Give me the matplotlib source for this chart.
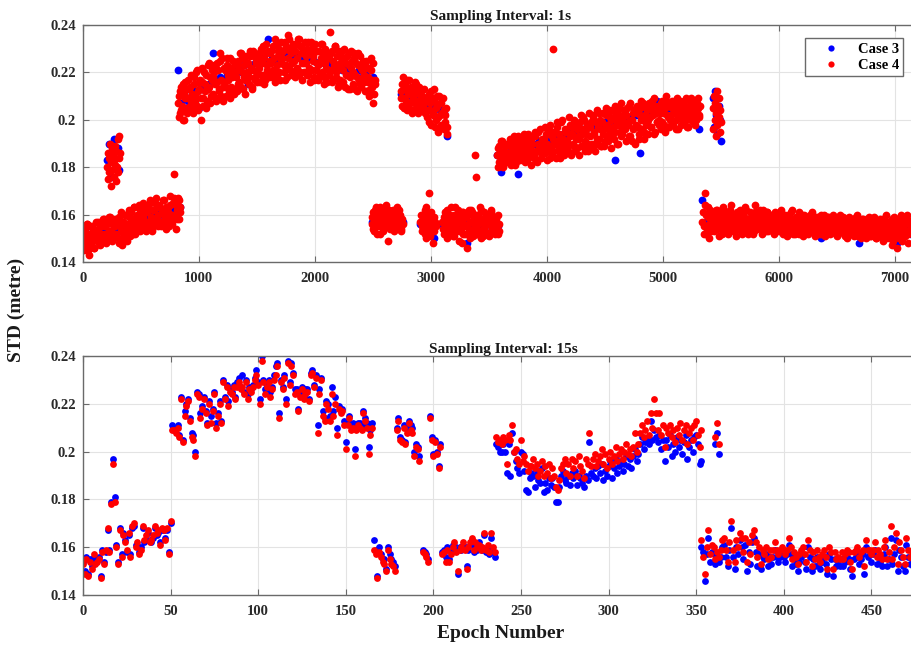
import numpy as np
import matplotlib.pyplot as plt

plt.rcParams['font.family'] = ['Liberation Serif', 'DejaVu Serif']
plt.rcParams['font.weight'] = 'bold'

# STD values in millimetres. Each block: first epoch, epoch step, values.

# ---- Sampling interval 1 s, Case 4 ----
s1_c4_a = [150, 145, 154, 148, 156, 143, 152, 147, 155, 150, 146, 153, 149, 157, 151, 147, 155, 149, 158, 152,
           148, 156, 150, 159, 153, 149, 157, 151, 155]
s1_c4_a2 = [147, 153, 150, 156, 145, 151, 155, 149, 154, 146, 152, 157, 150, 154, 148, 156, 152, 158, 149, 155,
            151, 157, 153, 159, 150, 156, 152, 158]
s1_c4_b = [180, 186, 175, 184, 178, 190, 182, 172, 188, 179, 185, 176, 183, 189, 181, 174, 187, 180, 192, 178,
           184, 193, 186]
s1_c4_c = [152, 158, 148, 155, 161, 150, 157, 153, 160, 149, 156, 162, 151, 158, 154, 163, 152, 159, 155, 164,
           153, 160, 156, 165, 154, 161, 157, 163, 155, 166, 158, 153, 162, 156, 167, 159, 155, 164, 157, 161,
           156, 166, 159, 154, 163, 158, 168, 160, 156, 165, 177, 154, 162, 167, 158, 163]
s1_c4_c2 = [156, 150, 159, 153, 147, 157, 152, 160, 155, 151, 159, 154, 161, 157, 152, 163, 156, 160, 154, 158,
            162, 155, 159, 164, 157, 153, 161, 156, 165, 159, 154, 162, 158, 165, 156, 160, 163, 157, 155, 161,
            166, 159, 163, 157, 161, 155, 164, 160, 158, 167, 160, 164, 158, 166, 161]
s1_c4_d = [207, 201, 212, 204, 215, 200, 209, 213, 203, 217, 206, 219, 211, 203, 215, 208, 221, 204, 213, 217,
           200, 222, 206, 215, 219, 208, 213, 224, 207, 217, 211, 220, 215, 208, 224, 213, 228, 210, 226, 214,
           216, 210, 223, 219, 212, 226, 214, 221, 211, 224, 218, 212, 225, 216, 228, 220, 213, 223, 217, 227,
           220, 215, 227, 222, 214, 229, 218, 224, 216, 226, 222, 216, 230, 219, 226, 217, 232, 223, 220, 228,
           224, 218, 231, 221, 234, 219, 227, 230, 217, 225, 226, 220, 233, 223, 218, 236, 222, 229, 219, 231,
           225, 218, 232, 222, 234, 220, 228, 217, 230, 224, 227, 219, 233, 222, 216, 230, 225, 218, 232, 221,
           229, 217, 224, 232, 220, 227, 215, 230, 222, 226, 219, 237, 228, 216, 225, 231, 218, 223, 214, 229,
           217, 226, 221, 230, 214, 224, 219, 228, 213, 222, 225, 215, 228, 219, 212, 223, 217, 227, 214, 221,
           216, 224, 212, 222, 218, 210, 226, 214, 207, 211, 217]
s1_c4_d2 = [210, 203, 214, 206, 200, 211, 216, 205, 209, 213, 214, 208, 204, 218, 210, 220, 206, 212, 216, 209,
            216, 209, 220, 212, 205, 223, 214, 218, 210, 221, 218, 223, 209, 216, 221, 212, 225, 217, 208, 222,
            221, 214, 226, 217, 209, 222, 218, 225, 213, 220, 223, 215, 221, 228, 214, 226, 218, 211, 224, 220,
            224, 218, 229, 213, 221, 227, 217, 225, 220, 228, 226, 219, 224, 231, 215, 228, 221, 229, 218, 225,
            229, 221, 226, 216, 232, 223, 229, 220, 233, 226, 229, 223, 217, 231, 226, 234, 221, 228, 224, 232,
            229, 221, 226, 234, 219, 231, 224, 228, 220, 233, 224, 230, 219, 228, 233, 221, 227, 217, 229, 224,
            223, 229, 219, 226, 232, 218, 224, 228, 216, 221, 226, 221, 229, 217, 223, 231, 220, 227, 215, 224,
            222, 229, 216, 225, 219, 227, 213, 223, 218, 229, 220, 226, 213, 224, 218, 228, 215, 222, 217, 225,
            219, 212, 225, 216, 222, 213, 221, 217, 224, 215]
s1_c4_e = [156, 161, 153, 158, 163, 155, 160, 152, 157, 162, 154, 159, 164, 156, 149, 161, 158, 155, 162, 154,
           159, 157, 163, 155, 160, 153, 158, 156]
s1_c4_e2 = [159, 154, 162, 157, 152, 160, 156, 163, 158, 153, 161, 155, 159, 157, 162, 154, 160, 156, 158, 153,
            161, 157, 155, 162, 159, 154, 157]
s1_c4_f = [212, 206, 218, 209, 215, 204, 211, 217, 207, 213, 203, 210, 216, 205, 212, 208, 214, 204, 210, 206,
           213, 203]
s1_c4_f2 = [209, 215, 205, 213, 208, 217, 206, 211, 214, 204, 209, 213, 207, 215, 203, 211, 206, 212, 209, 205,
            208]
s1_c4_g = [208, 201, 211, 204, 198, 209, 203, 213, 200, 206, 195, 210, 202, 207, 197, 204, 199, 205, 194]
s1_c4_g2 = [204, 210, 199, 207, 212, 202, 208, 197, 205, 210, 201, 207, 198, 203, 209, 196, 202, 197]
s1_c4_h = [157, 153, 160, 155, 162, 150, 158, 169, 154, 161, 156, 148, 159, 155]
s1_c4_h2 = [160, 155, 158, 152, 163, 157, 154, 160, 151, 158, 156, 153, 157]
s1_c4_i = [157, 152, 161, 155, 150, 159, 154, 163, 156, 151, 160, 153, 158, 162, 149, 157, 154, 161, 152, 159,
           155, 146, 160, 153, 157, 162, 151, 158, 155, 160, 152, 156, 163, 150, 158, 154, 161, 153, 157, 160,
           151, 156, 162, 154, 159, 152, 157, 155, 160, 153]
s1_c4_i2 = [154, 159, 153, 162, 157, 152, 160, 155, 158, 151, 163, 156, 154, 160, 153, 158, 148, 161, 156, 152,
            159, 155, 162, 150, 157, 161, 154, 159, 152, 156, 160, 153, 158, 162, 151, 157, 155, 160, 152, 158,
            156, 161, 153, 157, 159, 154, 158, 152, 156]
s1_c4_j = [185, 180, 189, 183, 191, 181, 187, 184, 190, 182, 186, 192, 181, 188, 184, 193, 182, 189, 185, 191,
           183, 190, 186, 194, 182, 188, 192, 184, 189, 181, 187, 193, 185, 195, 183, 190, 188, 196, 184, 191,
           186, 197, 189, 183, 194, 187, 198, 185, 192, 190, 195, 184, 199, 188, 192, 186, 200, 190, 185, 196,
           191, 187, 201, 193, 186, 197, 189, 199, 192, 188, 198, 185, 202, 194, 189, 200, 191, 196, 187, 203,
           193, 199, 188, 202, 195, 190, 204, 197, 192, 200, 189, 203, 196, 191, 205, 198, 193, 201, 188, 204,
           197, 192, 206, 199, 190, 202, 195, 207, 194, 199, 203, 191, 205, 198, 193, 207, 200, 196, 204, 190,
           198, 206, 194, 202, 208, 196, 200, 192, 205, 199, 194, 207, 201, 197, 204, 209, 195, 203, 199, 206,
           200, 196, 208, 203, 198, 205, 210, 201, 197, 207, 202, 208, 198, 205, 200, 209, 196, 204, 207, 201,
           199, 206, 203, 209, 197, 204, 208, 200, 205, 202, 207, 198, 204, 209, 201, 206]
s1_c4_j2 = [188, 182, 186, 191, 184, 180, 189, 186, 183, 190, 184, 189, 183, 191, 186, 181, 190, 187, 193, 185,
            188, 184, 192, 186, 190, 183, 194, 187, 185, 191, 190, 184, 193, 187, 182, 195, 189, 186, 192, 188,
            192, 186, 194, 190, 196, 184, 189, 193, 187, 195, 190, 197, 187, 194, 184, 199, 192, 188, 195, 191,
            195, 189, 198, 185, 194, 190, 200, 187, 196, 193, 192, 199, 189, 196, 201, 187, 194, 198, 190, 197,
            197, 190, 201, 194, 187, 199, 192, 203, 196, 189, 199, 194, 189, 202, 197, 191, 204, 195, 200, 193,
            201, 195, 203, 190, 198, 205, 193, 200, 196, 204, 196, 202, 199, 206, 193, 200, 191, 203, 197, 205,
            203, 197, 192, 205, 200, 207, 195, 202, 198, 204, 200, 205, 197, 208, 202, 194, 206, 199, 204, 198,
            203, 207, 199, 205, 195, 208, 202, 197, 206, 200, 205, 199, 207, 203, 196, 206, 201, 208, 198, 204,
            203, 208, 200, 205, 197, 206, 202, 209, 199, 204, 203, 200, 207, 205, 202]
s1_c4_k = [205, 196, 210, 200, 207, 193, 203, 212, 198, 206, 201, 209, 195, 204, 199]
s1_c4_l = [157, 152, 169, 160, 154, 163, 150, 158, 155, 161, 153, 159, 156, 162, 151, 157, 160, 154, 163, 158,
           155, 161, 152, 158, 156, 164, 153, 160, 157, 151, 159, 154, 162, 156, 152, 160, 157, 163, 155, 158,
           153, 161, 156, 159, 152, 164, 157, 154, 160, 155, 158, 152, 162, 156, 159, 153, 161, 155, 157, 160,
           154, 158, 152, 161, 156, 159, 153, 157, 162, 155, 159, 153, 157, 151, 160, 155, 158, 162, 154, 156,
           152, 159, 155, 161, 153, 157, 156, 151, 160, 154, 158, 152, 156, 160, 153, 157, 155, 151, 159, 154,
           157, 152, 160, 155, 153, 158, 151, 156, 159, 154, 152, 157, 155, 160, 153, 156, 151, 158, 154, 157,
           153, 159, 152, 156, 155, 150, 158, 154, 157, 152, 156, 151, 159, 154, 157, 152, 155, 150, 158, 153,
           155, 150, 157, 153, 159, 151, 156, 154, 152, 158, 150, 155, 153, 158, 151, 156, 149, 154, 160, 152,
           157, 150, 155, 147, 153, 159, 151, 156, 146, 158, 152, 160, 149, 155, 157, 151, 160, 148, 156, 153,
           155]
s1_c4_l2 = [161, 155, 164, 152, 159, 156, 162, 153, 158, 160, 157, 162, 154, 160, 155, 158, 152, 161, 157, 155,
            159, 153, 157, 162, 155, 160, 154, 158, 156, 161, 155, 158, 161, 153, 157, 159, 154, 162, 156, 152,
            158, 155, 160, 157, 153, 161, 155, 158, 156, 162, 155, 160, 154, 158, 156, 161, 153, 157, 159, 155,
            160, 155, 157, 153, 159, 156, 161, 154, 157, 152, 156, 160, 154, 158, 153, 157, 161, 155, 152, 158,
            157, 154, 159, 152, 156, 160, 155, 158, 153, 157, 155, 159, 153, 157, 161, 154, 158, 152, 156, 159,
            154, 158, 156, 152, 160, 155, 157, 153, 159, 156, 156, 153, 159, 154, 157, 152, 158, 155, 160, 153,
            157, 154, 151, 158, 153, 156, 159, 152, 155, 158, 153, 157, 155, 160, 151, 156, 153, 158, 154, 156,
            152, 158, 154, 156, 151, 157, 153, 159, 155, 150, 157, 153, 151, 156, 154, 158, 152, 155, 150, 157,
            153, 156, 151, 158, 149, 155, 152, 157, 154, 150, 157, 154, 159, 151, 156, 153, 158, 152, 157, 154]
s1_c4_odd_epochs = [3380, 3390, 4050]
s1_c4_odd = [185, 176, 230]

# ---- Sampling interval 1 s, Case 3 ----
s1_c3_a = [151, 150, 152, 151, 152, 153, 152, 153, 152, 153]
s1_c3_b = [183, 190, 176, 186, 192, 180, 188, 179]
s1_c3_c = [155, 154, 156, 155, 157, 156, 158, 157, 159, 158, 160, 159, 161, 160, 162, 161, 162, 163, 163]
s1_c3_d = [221, 207, 209, 208, 211, 212, 205, 213, 214, 215, 228, 216, 218, 217, 219, 220, 221, 222, 220, 223,
           215, 223, 224, 225, 226, 224, 234, 226, 225, 227, 226, 227, 226, 225, 227, 226, 225, 226, 227, 225,
           224, 225, 224, 223, 225, 222, 223, 221, 222, 222, 220, 219, 221, 218, 219, 217, 218]
s1_c3_e = [157, 158, 157, 156, 158, 157, 158, 156, 157, 157]
s1_c3_f = [211, 210, 211, 210, 209, 210, 209, 208]
s1_c3_g = [205, 204, 206, 205, 204, 203, 193]
s1_c3_h = [156, 157, 155, 156, 150]
s1_c3_i = [156, 157, 155, 156, 157, 156, 157, 148, 156, 157, 155, 156, 154, 156, 157, 156, 155]
s1_c3_j = [185, 178, 186, 186, 187, 188, 177, 188, 189, 189, 190, 190, 191, 191, 192, 192, 193, 193, 193, 194,
           194, 195, 195, 196, 196, 196, 197, 197, 198, 198, 198, 199, 199, 200, 183, 200, 201, 201, 201, 202,
           202, 186, 203, 203, 203, 204, 208, 204, 204, 205, 205, 205, 203, 206, 204, 205, 203, 206, 196]
s1_c3_k = [209, 197, 212, 202, 194, 206, 200, 191]
s1_c3_l = [166, 157, 157, 158, 156, 157, 157, 156, 157, 158, 157, 156, 157, 156, 157, 157, 156, 157, 156, 157,
           156, 156, 157, 155, 156, 156, 157, 155, 156, 156, 156, 155, 156, 155, 150, 155, 156, 155, 155, 154,
           155, 154, 155, 154, 155, 148, 154, 155, 154, 154, 154, 153, 155, 153, 154, 153, 148, 155, 153, 154,
           152]

# ---- Sampling interval 15 s, Case 4 ----
s15_c4_a = [153, 149, 155, 148, 154, 151, 157, 153, 154, 155, 147, 158, 153, 159, 168, 158, 178, 195, 179, 160,
            153, 167, 156, 165, 162, 159, 166, 156, 169, 170, 160, 162, 157, 159, 169, 163, 165, 167, 162, 163,
            165, 169, 166, 167, 161, 168, 167, 163, 168, 157, 171]
s15_c4_b = [209, 209, 208, 210, 206, 222, 204, 215, 219, 221, 213, 206, 205, 198, 224, 223, 214, 218, 222, 216,
            211, 220, 212, 217, 224, 210, 215, 220, 212, 229, 222, 227, 219, 225, 224, 227, 222, 227, 229, 226,
            227, 224, 229, 222, 226, 225, 227, 230, 232, 228, 220, 238, 229, 224, 227, 229, 223, 226, 230, 232,
            236, 214, 229, 226, 231, 220, 237, 228, 236, 232, 224, 225, 217, 223, 226, 222, 224, 225, 221, 232,
            233, 227, 231, 208, 224, 230, 215, 213, 220, 218, 213, 224, 215, 220, 207, 218, 216, 217, 211, 201,
            211, 214, 209, 210, 198, 209, 211, 210, 209, 216, 213, 210, 199, 207, 210]
s15_c4_c = [159, 157, 147, 158, 156, 154, 153, 150, 159, 155, 153, 152, 150]
s15_c4_d = [209, 213, 205, 204, 210, 203, 208, 212, 209, 208, 198, 202, 201, 196]
s15_c4_e = [158, 157, 156, 154]
s15_c4_f = [214, 205, 198, 204, 199, 193, 202]
s15_c4_g = [157, 158, 154, 159, 154, 157, 160, 162, 158, 150, 159, 160, 162, 159, 151, 160, 162, 164, 159, 162,
            160, 161, 159, 160, 166, 159, 161, 158, 166, 160, 158]
s15_c4_h = [206, 204, 205, 203, 206, 205, 195, 207, 205, 211, 200, 201, 197, 195, 205, 196, 198, 195, 192, 194,
            194, 197, 193, 195, 190, 192, 196, 190, 194, 191, 195, 189, 193, 190, 185, 184, 188, 193, 195, 197,
            191, 195, 190, 197, 193, 196, 190, 198, 194, 192, 189, 197, 195, 208, 194, 197, 199, 194, 196, 198,
            201, 195, 199, 193, 197, 200, 195, 198, 202, 196, 199, 201, 197, 200, 203, 199, 201, 198, 202, 208,
            200, 203, 208, 211, 206, 209, 213, 207, 216, 210, 222, 216, 209, 216, 207, 211, 202, 210, 208, 211,
            206, 209, 204, 210, 207, 212, 205, 209, 211, 203, 208, 210, 205, 211, 213, 207, 202, 209]
s15_c4_i = [206, 212, 203]
s15_c4_j = [163, 156, 149, 160, 167, 157, 161, 160, 155, 158, 156, 159, 163, 164, 159, 154, 162, 171, 159, 154,
            163, 160, 166, 164, 158, 164, 154, 162, 157, 165, 167, 162, 156, 160, 153, 159, 157, 160, 155, 159,
            156, 159, 162, 159, 157, 159, 160, 159, 157, 159, 164, 160, 155, 158, 156, 153, 157, 159, 160, 157,
            154, 163, 159, 152, 158, 155, 159, 156, 154, 157, 159, 156, 151, 160, 158, 151, 158, 155, 156, 155,
            158, 155, 157, 159, 158, 154, 151, 158, 159, 160, 156, 158, 159, 152, 163, 159, 159, 157, 159, 162,
            156, 159, 157, 155, 160, 163, 155, 158, 169, 155, 160, 166, 153, 162, 159, 156, 153, 164, 159, 156,
            158, 155]

# ---- Sampling interval 15 s, Case 3 ----
s15_c3_a = [154, 150, 156, 149, 155, 152, 156, 154, 155, 156, 148, 159, 154, 158, 167, 159, 179, 197, 181, 161,
            154, 168, 157, 166, 163, 158, 165, 157, 168, 169, 161, 161, 158, 160, 168, 162, 163, 166, 163, 162,
            164, 168, 165, 166, 162, 167, 167, 164, 167, 158, 170]
s15_c3_b = [211, 210, 210, 211, 207, 223, 205, 217, 220, 222, 214, 208, 207, 200, 225, 224, 216, 219, 223, 217,
            212, 221, 215, 218, 225, 212, 216, 221, 213, 230, 223, 228, 221, 226, 225, 228, 223, 229, 231, 227,
            232, 225, 230, 224, 227, 226, 228, 231, 234, 229, 222, 240, 230, 226, 228, 230, 225, 227, 232, 236,
            237, 216, 230, 227, 232, 222, 238, 229, 237, 233, 226, 226, 218, 224, 227, 223, 226, 226, 222, 233,
            234, 228, 232, 211, 226, 231, 217, 214, 221, 220, 215, 227, 217, 223, 210, 219, 217, 218, 213, 204,
            213, 215, 211, 212, 201, 211, 212, 212, 211, 217, 214, 212, 202, 209, 212]
s15_c3_c = [163, 159, 148, 160, 157, 155, 155, 151, 160, 157, 155, 154, 152]
s15_c3_d = [210, 214, 206, 205, 211, 204, 210, 213, 211, 210, 200, 203, 202, 198]
s15_c3_e = [159, 158, 157, 155]
s15_c3_f = [215, 206, 199, 205, 200, 194, 203]
s15_c3_g = [158, 159, 156, 160, 155, 158, 161, 161, 159, 149, 160, 159, 161, 160, 152, 159, 161, 163, 158, 161,
            159, 162, 160, 159, 165, 158, 160, 157, 164, 158, 156]
s15_c3_h = [203, 202, 200, 200, 203, 200, 191, 203, 190, 208, 200, 196, 193, 191, 200, 199, 192, 184, 183, 189,
            191, 190, 185, 192, 188, 187, 193, 183, 187, 184, 189, 186, 189, 185, 179, 179, 185, 190, 192, 188,
            187, 190, 186, 191, 189, 192, 186, 190, 189, 187, 185, 190, 188, 204, 191, 190, 193, 189, 194, 191,
            195, 188, 192, 190, 194, 196, 189, 193, 197, 191, 194, 196, 192, 195, 198, 194, 197, 193, 198, 201,
            196, 199, 203, 206, 201, 204, 205, 203, 213, 205, 209, 206, 204, 207, 201, 205, 196, 205, 202, 207,
            198, 203, 200, 206, 202, 205, 199, 204, 207, 197, 202, 205, 200, 206, 207, 203, 195, 196]
s15_c3_i = [203, 208, 199]
s15_c3_j = [160, 158, 146, 157, 164, 154, 158, 157, 153, 155, 154, 156, 160, 161, 156, 152, 159, 168, 156, 151,
            160, 157, 163, 160, 155, 161, 150, 158, 153, 162, 164, 158, 152, 157, 151, 156, 155, 157, 152, 156,
            153, 156, 159, 156, 154, 156, 158, 156, 154, 157, 161, 157, 152, 155, 153, 150, 154, 156, 157, 154,
            151, 160, 156, 150, 155, 152, 156, 153, 151, 154, 156, 153, 149, 157, 155, 148, 155, 152, 153, 152,
            155, 152, 154, 156, 155, 151, 148, 155, 156, 158, 153, 155, 157, 149, 160, 156, 157, 154, 157, 159,
            153, 156, 154, 152, 157, 160, 152, 155, 164, 153, 157, 163, 150, 159, 156, 152, 150, 161, 156, 153,
            155, 152]

s1_case4 = [(0, 10, s1_c4_a), (5, 10, s1_c4_a2), (210, 5, s1_c4_b), (290, 10, s1_c4_c), (295, 10, s1_c4_c2),
            (820, 10, s1_c4_d), (825, 10, s1_c4_d2), (2490, 10, s1_c4_e), (2495, 10, s1_c4_e2),
            (2740, 10, s1_c4_f), (2745, 10, s1_c4_f2), (2960, 10, s1_c4_g), (2965, 10, s1_c4_g2),
            (2910, 10, s1_c4_h), (2915, 10, s1_c4_h2), (3100, 10, s1_c4_i), (3105, 10, s1_c4_i2),
            (3570, 10, s1_c4_j), (3575, 10, s1_c4_j2), (5430, 5, s1_c4_k), (5340, 10, s1_c4_l),
            (5345, 10, s1_c4_l2)]
s1_case3 = [(0, 30, s1_c3_a), (210, 15, s1_c3_b), (300, 30, s1_c3_c), (820, 30, s1_c3_d),
            (2490, 30, s1_c3_e), (2740, 30, s1_c3_f), (2960, 30, s1_c3_g), (2910, 30, s1_c3_h),
            (3100, 30, s1_c3_i), (3570, 30, s1_c3_j), (5430, 10, s1_c3_k), (5340, 30, s1_c3_l)]
s15_case4 = [(0, 1, s15_c4_a), (51, 1, s15_c4_b), (166, 1, s15_c4_c), (179, 1, s15_c4_d),
             (194, 1, s15_c4_e), (198, 1, s15_c4_f), (205, 1, s15_c4_g), (236, 1, s15_c4_h),
             (361, 1, s15_c4_i), (353, 1, s15_c4_j)]
s15_case3 = [(0, 1, s15_c3_a), (51, 1, s15_c3_b), (166, 1, s15_c3_c), (179, 1, s15_c3_d),
             (194, 1, s15_c3_e), (198, 1, s15_c3_f), (205, 1, s15_c3_g), (236, 1, s15_c3_h),
             (361, 1, s15_c3_i), (353, 1, s15_c3_j)]


def unpack(blocks):
    xs, ys = [], []
    for start, step, vals in blocks:
        xs.append(start + step * np.arange(len(vals)))
        ys.append(np.array(vals) / 1000.0)
    return np.concatenate(xs), np.concatenate(ys)


x1_c3, y1_c3 = unpack(s1_case3)
x1_c4, y1_c4 = unpack(s1_case4)
x1_c4 = np.concatenate([x1_c4, s1_c4_odd_epochs])
y1_c4 = np.concatenate([y1_c4, np.array(s1_c4_odd) / 1000.0])
x15_c3, y15_c3 = unpack(s15_case3)
x15_c4, y15_c4 = unpack(s15_case4)

BLUE = '#0000ff'
RED = '#ff0000'
AXC = '#6a6a6a'

fig = plt.figure(figsize=(9.11, 6.45), dpi=100)
ax1 = fig.add_axes([0.0909, 0.5938, 0.917, 0.3674])
ax2 = fig.add_axes([0.0911, 0.0775, 0.923, 0.3705])


def style(ax, xmax, xticks, title, pad):
    ax.set_xlim(0, xmax)
    ax.set_ylim(0.14, 0.24)
    ax.set_xticks(xticks)
    ax.set_yticks([0.14, 0.16, 0.18, 0.2, 0.22, 0.24])
    ax.set_yticklabels(['0.14', '0.16', '0.18', '0.2', '0.22', '0.24'])
    ax.grid(True, color='#e3e3e3', lw=0.8)
    ax.set_axisbelow(True)
    for s in ax.spines.values():
        s.set_color(AXC)
        s.set_linewidth(1.0)
    ax.tick_params(direction='in', length=4, width=0.8, color=AXC,
                   top=True, right=True, labelsize=10.5, labelcolor='#2a2a2a')
    ax.tick_params(axis='x', pad=7)
    ax.tick_params(axis='y', pad=5)
    for lab in ax.get_xticklabels() + ax.get_yticklabels():
        lab.set_fontweight('bold')
    ax.set_title(title, fontsize=11, fontweight='bold', pad=pad, color='#1a1a1a')


ax1.plot(x1_c3, y1_c3, 'o', color=BLUE, ms=5.6, mew=0, label='Case 3')
ax1.plot(x1_c4, y1_c4, 'o', color=RED, ms=5.6, mew=0, label='Case 4')
style(ax1, 7200, range(0, 7001, 1000), 'Sampling Interval: 1s', 3.5)
leg = ax1.legend(loc='upper right', bbox_to_anchor=(0.982, 0.945), borderaxespad=0,
                 fancybox=False, edgecolor=AXC, framealpha=1, fontsize=10.5,
                 handlelength=3.0, handletextpad=0.3, borderpad=0.3, labelspacing=0.2,
                 markerscale=0.8)
leg.get_frame().set_linewidth(1.0)
for t in leg.get_texts():
    t.set_fontweight('bold')

ax2.plot(x15_c3, y15_c3, 'o', color=BLUE, ms=4.9, mew=0)
ax2.plot(x15_c4, y15_c4, 'o', color=RED, ms=4.9, mew=0)
style(ax2, 480, range(0, 451, 50), 'Sampling Interval: 15s', 2.5)

fig.text(0.0176, 0.519, 'STD (metre)', rotation=90, ha='center', va='center',
         fontsize=14, fontweight='bold', color='#1a1a1a')
fig.text(0.549, 0.0186, 'Epoch Number', ha='center', va='center',
         fontsize=14, fontweight='bold', color='#1a1a1a')

fig.savefig('out.png', dpi=100)
